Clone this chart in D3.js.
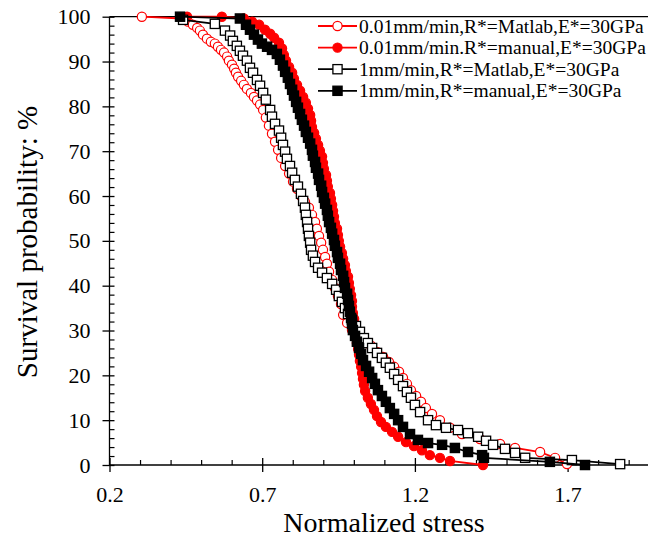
<!DOCTYPE html>
<html>
<head>
<meta charset="utf-8">
<script src="https://cdn.jsdelivr.net/npm/d3@7"></script>
<style>
  body { margin: 0; background: #fff; }
  svg { display: block; font-family: "Liberation Serif", "Times New Roman", serif; }
</style>
</head>
<body>
<svg id="chart" width="648" height="539"></svg>
<script>
// tick values
const xMajorTicks = [0.2, 0.7, 1.2, 1.7];
const xMinorTicks = [0.3, 0.4, 0.5, 0.6, 0.8, 0.9, 1.0, 1.1, 1.3, 1.4, 1.5, 1.6, 1.8, 1.9, 2.0, 2.1];
const yMajorTicks = [0, 10, 20, 30, 40, 50, 60, 70, 80, 90, 100];
const yMinorTicks = [2, 4, 6, 8, 12, 14, 16, 18, 22, 24, 26, 28, 32, 34, 36, 38, 42, 44, 46, 48,
  52, 54, 56, 58, 62, 64, 66, 68, 72, 74, 76, 78, 82, 84, 86, 88, 92, 94, 96, 98];

const seriesLabels = [
  "0.01mm/min,R*=Matlab,E*=30GPa",
  "0.01mm/min.R*=manual,E*=30GPa",
  "1mm/min,R*=Matlab,E*=30GPa",
  "1mm/min,R*=manual,E*=30GPa"
];

// [normalized stress, survival probability %]
const slowMatlab = [
  [0.306,100],[0.437,99.6],[0.457,98.9],[0.473,98.2],[0.487,97.5],[0.496,96.9],[0.506,96.0],
  [0.519,95.1],[0.532,94.4],[0.545,94.0],[0.555,93.3],[0.565,92.6],[0.575,92.0],[0.585,91.1],
  [0.591,90.2],[0.601,89.3],[0.608,88.4],[0.614,87.5],[0.621,86.6],[0.631,85.7],[0.640,84.8],
  [0.650,83.9],[0.663,83.0],[0.673,82.1],[0.683,81.3],[0.693,80.4],[0.703,79.2],[0.712,77.5],
  [0.722,75.7],[0.732,73.9],[0.742,72.1],[0.752,70.3],[0.762,68.5],[0.775,66.7],[0.788,65.0],
  [0.801,63.2],[0.814,61.6],[0.827,60.0],[0.840,58.7],[0.853,57.4],[0.863,55.8],[0.873,54.2],
  [0.879,52.7],[0.886,51.1],[0.893,49.6],[0.899,48.0],[0.906,46.4],[0.912,44.9],[0.919,43.1],
  [0.929,41.3],[0.938,39.5],[0.948,37.7],[0.958,35.9],[0.965,33.5],[0.978,31.7],[0.994,30.1],
  [1.014,28.8],[1.037,27.7],[1.056,26.6],[1.076,25.2],[1.096,24.1],[1.115,23.0],[1.132,21.9],
  [1.148,20.8],[1.161,19.4],[1.174,18.1],[1.187,16.7],[1.204,15.4],[1.220,14.1],[1.236,12.7],
  [1.256,11.4],[1.282,10.0],[1.315,8.3],[1.354,6.9],[1.413,5.8],[1.479,4.7],[1.528,3.8],
  [1.610,2.9],[1.659,1.6],[1.698,0.2]
];

const slowManual = [
  [0.454,100],[0.568,100],[0.640,99.6],[0.667,98.9],[0.690,98.2],[0.709,97.1],[0.726,96.2],
  [0.739,95.3],[0.755,94.2],[0.765,92.9],[0.771,91.5],[0.778,90.2],[0.788,88.8],[0.798,87.5],
  [0.804,86.2],[0.814,84.8],[0.824,83.5],[0.834,82.1],[0.843,80.8],[0.850,79.5],[0.857,78.1],
  [0.860,76.8],[0.863,75.4],[0.870,74.1],[0.876,72.8],[0.883,71.4],[0.889,70.1],[0.896,68.8],
  [0.899,67.4],[0.902,66.1],[0.909,64.7],[0.912,63.4],[0.915,62.1],[0.922,60.7],[0.925,59.4],
  [0.929,58.0],[0.932,56.7],[0.935,55.4],[0.938,54.0],[0.945,52.7],[0.948,51.3],[0.951,50.0],
  [0.955,48.7],[0.961,47.3],[0.965,46.0],[0.971,44.6],[0.974,43.3],[0.981,42.0],[0.984,40.6],
  [0.987,39.3],[0.991,37.9],[0.994,36.6],[0.994,35.3],[0.997,33.9],[1.001,32.6],[1.001,31.3],
  [1.004,29.9],[1.007,28.6],[1.010,27.2],[1.014,25.9],[1.017,24.6],[1.020,23.2],[1.024,21.9],
  [1.027,20.5],[1.030,19.2],[1.033,17.9],[1.037,16.5],[1.046,15.0],[1.056,13.6],[1.066,12.3],
  [1.076,10.9],[1.089,9.6],[1.105,8.5],[1.125,7.4],[1.145,6.3],[1.171,5.1],[1.197,4.2],
  [1.223,3.3],[1.249,2.2],[1.282,1.6],[1.315,0.9],[1.423,0]
];

const fastMatlab = [
  [0.441,99.3],[0.545,98.4],[0.578,96.9],[0.595,95.8],[0.604,94.6],[0.617,93.5],[0.627,92.4],
  [0.637,91.3],[0.650,90.2],[0.660,88.6],[0.670,87.5],[0.683,85.9],[0.693,84.6],[0.703,83.0],
  [0.712,81.5],[0.726,79.2],[0.732,77.7],[0.742,76.1],[0.755,74.6],[0.762,73.0],[0.768,71.4],
  [0.775,69.9],[0.781,68.3],[0.791,66.7],[0.798,65.2],[0.807,63.6],[0.817,62.1],[0.827,60.5],
  [0.834,58.9],[0.840,57.4],[0.843,55.8],[0.847,54.2],[0.850,52.7],[0.853,51.1],[0.857,49.6],
  [0.860,48.0],[0.866,46.7],[0.873,45.3],[0.883,44.0],[0.896,42.9],[0.912,41.7],[0.929,40.4],
  [0.942,39.1],[0.951,37.7],[0.961,36.4],[0.971,35.0],[0.981,33.7],[0.994,32.4],[1.007,31.0],
  [1.020,29.7],[1.033,28.3],[1.046,27.2],[1.060,26.1],[1.076,25.0],[1.092,23.9],[1.105,22.8],
  [1.118,21.7],[1.132,20.3],[1.145,19.0],[1.161,17.6],[1.174,16.3],[1.187,15.0],[1.200,13.4],
  [1.217,11.8],[1.243,10.0],[1.269,8.9],[1.302,8.3],[1.341,7.8],[1.374,7.1],[1.407,6.3],
  [1.433,5.4],[1.456,4.5],[1.495,3.6],[1.528,2.7],[1.561,1.6],[1.714,1.1],[1.872,0.2]
];

const fastManual = [
  [0.431,100],[0.627,99.6],[0.647,98.2],[0.660,97.1],[0.673,96.0],[0.686,94.9],[0.699,94.0],
  [0.716,93.3],[0.732,92.6],[0.748,91.7],[0.758,90.4],[0.768,89.1],[0.775,87.7],[0.784,86.4],
  [0.791,85.0],[0.798,83.7],[0.804,82.4],[0.811,81.0],[0.817,79.7],[0.824,78.3],[0.830,77.0],
  [0.837,75.7],[0.843,74.3],[0.850,73.0],[0.857,71.7],[0.863,70.3],[0.866,69.0],[0.873,67.6],
  [0.876,66.3],[0.883,65.0],[0.886,63.6],[0.893,62.3],[0.896,60.9],[0.902,59.6],[0.906,58.3],
  [0.912,56.9],[0.915,55.6],[0.919,54.2],[0.925,52.9],[0.929,51.6],[0.935,50.2],[0.938,48.9],
  [0.945,47.5],[0.948,46.2],[0.955,44.9],[0.958,43.5],[0.965,42.2],[0.968,40.8],[0.971,39.5],
  [0.978,38.2],[0.981,36.8],[0.984,35.5],[0.987,34.2],[0.991,32.8],[0.994,31.5],[0.997,30.1],
  [1.004,28.8],[1.010,27.5],[1.017,26.1],[1.024,24.8],[1.030,23.4],[1.040,22.1],[1.050,20.8],
  [1.060,19.4],[1.069,18.1],[1.079,16.7],[1.092,15.4],[1.105,14.1],[1.118,12.7],[1.132,11.4],
  [1.145,10.0],[1.161,8.5],[1.184,6.9],[1.210,5.6],[1.243,4.9],[1.289,4.5],[1.331,3.8],
  [1.374,2.9],[1.420,2.2],[1.426,1.6],[1.642,0.7],[1.757,0]
];

const series = [
  {name: seriesLabels[0], data: slowMatlab, color: "#ff0000", shape: "circle", filled: false},
  {name: seriesLabels[1], data: slowManual, color: "#ff0000", shape: "circle", filled: true},
  {name: seriesLabels[2], data: fastMatlab, color: "#000000", shape: "square", filled: false},
  {name: seriesLabels[3], data: fastManual, color: "#000000", shape: "square", filled: true}
];

const svg = d3.select("#chart");
const plotLeft = 109.5, plotBottom = 465, plotTop = 16.7;

const x = d3.scaleLinear().domain([0.2, 2.2]).range([plotLeft, plotLeft + 2 * 305.4]);
const y = d3.scaleLinear().domain([0, 100]).range([plotBottom, plotTop]);

// top border
svg.append("line")
    .attr("x1", plotLeft).attr("x2", 648)
    .attr("y1", plotTop).attr("y2", plotTop)
    .attr("stroke", "#000").attr("stroke-width", 1.3);

// x axis
const xAxis = svg.append("g")
    .attr("transform", `translate(0,${plotBottom})`)
    .call(d3.axisBottom(x).tickValues(xMajorTicks).tickSize(7).tickPadding(14)
        .tickFormat(d3.format(".1f")));
xAxis.select(".domain").attr("stroke-width", 1.3).attr("d", `M${plotLeft},0H648`);
xAxis.selectAll(".tick line").attr("y1", -7).attr("y2", 7).attr("stroke-width", 1.3);
xAxis.selectAll(".tick text").attr("font-size", 22).attr("font-family", "Liberation Serif").attr("fill", "#000");

svg.append("g")
    .attr("transform", `translate(0,${plotBottom})`)
    .call(d3.axisBottom(x).tickValues(xMinorTicks).tickSize(-5).tickFormat(""))
    .call(g => g.select(".domain").remove())
    .selectAll(".tick line").attr("stroke-width", 1.2);

// y axis
const yAxis = svg.append("g")
    .attr("transform", `translate(${plotLeft},0)`)
    .call(d3.axisLeft(y).tickValues(yMajorTicks).tickSize(7).tickPadding(12));
yAxis.select(".domain").attr("stroke-width", 1.3).attr("d", `M0,${plotBottom}V${plotTop}`);
yAxis.selectAll(".tick line").attr("x1", 5).attr("x2", -7).attr("stroke-width", 1.3);
yAxis.selectAll(".tick text").attr("font-size", 22).attr("font-family", "Liberation Serif").attr("fill", "#000");

svg.append("g")
    .attr("transform", `translate(${plotLeft},0)`)
    .call(d3.axisLeft(y).tickValues(yMinorTicks).tickSize(-5).tickFormat(""))
    .call(g => g.select(".domain").remove())
    .selectAll(".tick line").attr("stroke-width", 1.2);

// titles
svg.append("text")
    .attr("x", 384).attr("y", 532)
    .attr("text-anchor", "middle")
    .attr("font-size", 28)
    .text("Normalized stress");

svg.append("text")
    .attr("transform", "translate(37,242) rotate(-90)")
    .attr("text-anchor", "middle")
    .attr("font-size", 29)
    .text("Survival probability: %");

// series
const line = d3.line().x(d => x(d[0])).y(d => y(d[1]));

function drawMarker(sel, s) {
    if (s.shape === "circle") {
        sel.append("circle")
            .attr("r", 4.6)
            .attr("fill", s.filled ? s.color : "#fff")
            .attr("stroke", s.color)
            .attr("stroke-width", 1.2);
    } else {
        sel.append("rect")
            .attr("x", -4.6).attr("y", -4.6)
            .attr("width", 9.2).attr("height", 9.2)
            .attr("fill", s.filled ? s.color : "#fff")
            .attr("stroke", s.color)
            .attr("stroke-width", 1.3);
    }
}

series.forEach(s => {
    const g = svg.append("g");
    g.append("path")
        .datum(s.data)
        .attr("d", line)
        .attr("fill", "none")
        .attr("stroke", s.color)
        .attr("stroke-width", 1.8);
    g.selectAll("g.pt")
        .data(s.data)
        .enter().append("g")
        .attr("class", "pt")
        .attr("transform", d => `translate(${x(d[0])},${y(d[1])})`)
        .each(function() { drawMarker(d3.select(this), s); });
});

// legend
const legend = svg.append("g");
series.forEach((s, i) => {
    const cy = 26 + i * 21.6;
    const row = legend.append("g");
    row.append("line")
        .attr("x1", 318).attr("x2", 357)
        .attr("y1", cy).attr("y2", cy)
        .attr("stroke", s.color).attr("stroke-width", 1.8);
    drawMarker(row.append("g").attr("transform", `translate(337.5,${cy})`), s);
    row.append("text")
        .attr("x", 359).attr("y", cy + 6.5)
        .attr("font-size", 19.5)
        .text(s.name);
});
</script>
</body>
</html>
